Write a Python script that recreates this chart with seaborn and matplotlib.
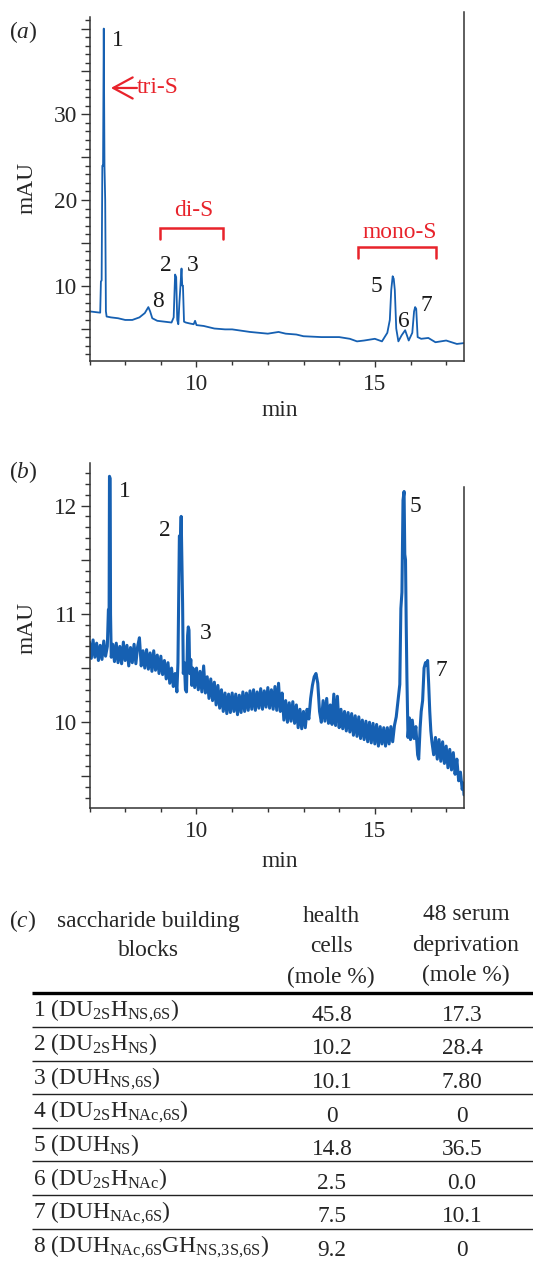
import matplotlib
matplotlib.use('Agg')
import matplotlib.pyplot as plt
import seaborn as sns
from matplotlib.ticker import MultipleLocator, FixedLocator, FixedFormatter

# Panel (a): chromatogram of health cells (min, mAU)
a_time = [7.00, 7.20, 7.30, 7.32, 7.34, 7.36, 7.38, 7.40, 7.42, 7.44, 7.46, 7.48,
          7.60, 7.80, 8.00, 8.20, 8.40, 8.55, 8.65, 8.70, 8.76, 8.90, 9.10, 9.30,
          9.36, 9.40, 9.43, 9.46, 9.49, 9.52, 9.55, 9.58, 9.60, 9.62, 9.65, 9.70,
          9.80, 9.92, 9.96, 10.00, 10.20, 10.50, 10.80, 11.00, 11.50, 12.00, 12.30,
          12.50, 12.80, 13.00, 13.50, 14.00, 14.30, 14.50, 14.70, 15.00, 15.20,
          15.35, 15.42, 15.46, 15.50, 15.53, 15.56, 15.60, 15.66, 15.75, 15.85,
          15.95, 16.05, 16.10, 16.13, 16.16, 16.20, 16.30, 16.50, 16.70, 17.00,
          17.30, 17.50]
a_mau = [7.0, 6.9, 6.85, 10.5, 10.6, 24.0, 24.0, 40.0, 24.0, 20.0, 7.0, 6.4,
         6.3, 6.2, 6.0, 6.0, 6.3, 6.8, 7.5, 7.0, 6.2, 5.9, 5.8, 5.7,
         6.3, 11.3, 11.0, 6.0, 5.5, 8.0, 10.0, 12.0, 10.0, 10.0, 5.8, 5.7,
         5.6, 5.5, 5.9, 5.4, 5.3, 5.0, 4.9, 4.9, 4.6, 4.4, 4.6,
         4.4, 4.3, 4.1, 4.0, 4.0, 3.8, 3.5, 3.6, 3.8, 3.5,
         4.5, 6.0, 9.5, 11.1, 10.8, 9.5, 5.0, 3.5, 4.2, 4.8,
         3.6, 4.5, 7.0, 7.5, 7.3, 4.0, 3.8, 3.9, 3.4, 3.6,
         3.2, 3.3]

# Panel (b): chromatogram after 48 h serum deprivation (min, mAU)
b_time = [7.00, 7.05, 7.10, 7.15, 7.20, 7.25, 7.30, 7.35, 7.40, 7.45, 7.50,
          7.53, 7.55, 7.56, 7.58, 7.59, 7.61, 7.65, 7.70, 7.75, 7.80, 7.85,
          7.90, 7.95, 8.00, 8.05, 8.10, 8.15, 8.20, 8.25, 8.30, 8.35, 8.40,
          8.45, 8.50, 8.55, 8.60, 8.65, 8.70, 8.75, 8.80, 8.85, 8.90, 8.95,
          9.00, 9.05, 9.10, 9.15, 9.20, 9.25, 9.30, 9.35, 9.40, 9.45, 9.48,
          9.52, 9.55, 9.57, 9.59, 9.61, 9.63, 9.66, 9.69, 9.72, 9.75, 9.77,
          9.79, 9.81, 9.84, 9.87, 9.90, 9.95, 10.00, 10.05, 10.10, 10.15,
          10.20, 10.25, 10.30, 10.35, 10.40, 10.45, 10.50, 10.55, 10.60,
          10.65, 10.70, 10.75, 10.80, 10.85, 10.90, 10.95, 11.00, 11.05,
          11.10, 11.15, 11.20, 11.25, 11.30, 11.35, 11.40, 11.45, 11.50,
          11.55, 11.60, 11.65, 11.70, 11.75, 11.80, 11.85, 11.90, 11.95,
          12.00, 12.05, 12.10, 12.15, 12.20, 12.25, 12.30, 12.35, 12.40,
          12.45, 12.50, 12.55, 12.60, 12.65, 12.70, 12.75, 12.80, 12.85,
          12.90, 12.95, 13.00, 13.05, 13.10, 13.15, 13.20, 13.25, 13.30,
          13.35, 13.40, 13.45, 13.50, 13.55, 13.60, 13.65, 13.70, 13.75,
          13.80, 13.85, 13.90, 13.95, 14.00, 14.05, 14.10, 14.15, 14.20,
          14.25, 14.30, 14.35, 14.40, 14.45, 14.50, 14.55, 14.60, 14.65,
          14.70, 14.75, 14.80, 14.85, 14.90, 14.95, 15.00, 15.05, 15.10,
          15.15, 15.20, 15.25, 15.30, 15.35, 15.40, 15.45, 15.50, 15.55,
          15.60, 15.65, 15.70, 15.73, 15.76, 15.79, 15.82, 15.84, 15.86,
          15.88, 15.90, 15.93, 15.97, 16.00, 16.05, 16.10, 16.15, 16.20,
          16.23, 16.27, 16.30, 16.34, 16.38, 16.42, 16.45, 16.48, 16.51,
          16.54, 16.57, 16.60, 16.65, 16.70, 16.75, 16.80, 16.85, 16.90,
          16.95, 17.00, 17.05, 17.10, 17.15, 17.20, 17.25, 17.30, 17.35,
          17.40, 17.45, 17.48, 17.50]
b_mau = [10.74, 10.59, 10.76, 10.60, 10.73, 10.57, 10.71, 10.58, 10.75, 10.61, 10.70,
         11.04, 11.05, 12.27, 12.25, 11.00, 10.60, 10.72, 10.56, 10.73, 10.55, 10.70,
         10.54, 10.74, 10.57, 10.71, 10.52, 10.69, 10.55, 10.72, 10.54, 10.70, 10.78,
         10.52, 10.66, 10.50, 10.67, 10.49, 10.64, 10.47, 10.66, 10.48, 10.62, 10.45,
         10.61, 10.44, 10.57, 10.40, 10.55, 10.36, 10.50, 10.33, 10.45, 10.28, 10.55,
         11.72, 11.70, 11.90, 11.50, 11.10, 10.45, 10.55, 10.30, 10.28, 10.80, 10.88,
         10.85, 10.45, 10.58, 10.34, 10.50, 10.32, 10.50, 10.30, 10.47, 10.28,
         10.52, 10.27, 10.42, 10.22, 10.40, 10.20, 10.37, 10.16, 10.34,
         10.13, 10.30, 10.10, 10.27, 10.08, 10.26, 10.09, 10.27, 10.10,
         10.26, 10.07, 10.25, 10.09, 10.28, 10.10, 10.27, 10.11, 10.29,
         10.12, 10.30, 10.11, 10.28, 10.13, 10.31, 10.12, 10.29, 10.14,
         10.32, 10.13, 10.30, 10.12, 10.33, 10.11, 10.36, 10.10, 10.27,
         10.02, 10.20, 10.00, 10.18, 10.01, 10.19, 9.99, 10.16, 9.95,
         10.12, 9.94, 10.10, 9.95, 10.12, 10.03, 10.22, 10.34, 10.42,
         10.45, 10.36, 10.10, 10.00, 10.20, 10.01, 10.22, 9.99, 10.16,
         9.98, 10.26, 9.97, 10.24, 9.95, 10.12, 9.94, 10.10, 9.92,
         10.09, 9.91, 10.08, 9.88, 10.06, 9.87, 10.05, 9.85, 10.02,
         9.84, 10.01, 9.82, 10.00, 9.81, 9.99, 9.80, 9.98, 9.78,
         9.96, 9.80, 9.95, 9.78, 9.95, 9.80, 9.96, 9.82, 9.97,
         10.05, 10.20, 10.35, 11.05, 11.20, 12.05, 12.13, 11.55, 11.50,
         10.90, 10.40, 9.86, 10.04, 9.84, 10.02, 9.85, 9.96, 9.70,
         9.66, 9.95, 10.10, 10.20, 10.50, 10.55, 10.53, 10.57, 10.35,
         10.10, 9.92, 9.82, 9.70, 9.86, 9.66, 9.84, 9.64, 9.82,
         9.62, 9.78, 9.58, 9.75, 9.56, 9.72, 9.52, 9.66, 9.46,
         9.54, 9.38, 9.44, 9.33]

# peak labels
a_peak_ids = ['1', '2', '3', '8', '5', '6', '7']
a_peak_x = [7.80, 9.145, 9.88, 8.93, 15.05, 15.82, 16.43]
a_peak_y = [38.6, 12.33, 12.33, 8.13, 9.88, 5.80, 7.63]
b_peak_ids = ['1', '2', '3', '5', '7']
b_peak_x = [7.995, 9.12, 10.26, 16.13, 16.87]
b_peak_y = [12.13, 11.77, 10.82, 11.99, 10.48]

# sulfation groups in panel (a)
group_names = ['di-S', 'mono-S']
group_x = [9.91, 15.70]
group_y = [18.83, 16.23]
group_start = [8.98, 14.52]
group_end = [10.75, 16.71]
group_top = [16.7, 14.52]
group_leg = [15.4, 13.27]

# table (c)
block_names = [
    r'1 (DU$_{\mathrm{2S}}$H$_{\mathrm{NS{,}6S}}$)',
    r'2 (DU$_{\mathrm{2S}}$H$_{\mathrm{NS}}$)',
    r'3 (DUH$_{\mathrm{NS{,}6S}}$)',
    r'4 (DU$_{\mathrm{2S}}$H$_{\mathrm{NAc{,}6S}}$)',
    r'5 (DUH$_{\mathrm{NS}}$)',
    r'6 (DU$_{\mathrm{2S}}$H$_{\mathrm{NAc}}$)',
    r'7 (DUH$_{\mathrm{NAc{,}6S}}$)',
    r'8 (DUH$_{\mathrm{NAc{,}6S}}$GH$_{\mathrm{NS{,}3S{,}6S}}$)',
]
health_cells = ['45.8', '10.2', '10.1', '0', '14.8', '2.5', '7.5', '9.2']
serum_deprived = ['17.3', '28.4', '7.80', '0', '36.5', '0.0', '10.1', '0']

assert len(b_time) == len(b_mau) and len(a_time) == len(a_mau)

BLUE = '#1660b2'
RED = '#e8232b'
INK = '#1a1a1a'
FS = 16.8

sns.set_style('ticks')
plt.rcParams['font.family'] = ['Liberation Serif', 'DejaVu Serif']
plt.rcParams['mathtext.fontset'] = 'custom'
plt.rcParams['mathtext.rm'] = 'Liberation Serif'
plt.rcParams['mathtext.it'] = 'Liberation Serif:italic'
plt.rcParams['mathtext.bf'] = 'Liberation Serif:bold'

fig = plt.figure(figsize=(5.33, 12.61), dpi=100)
W, H = 533.0, 1261.0


def style_axis(ax, ylim, left_top, right_top, major, minor, labels, ylab_y, xlab_y):
    ax.set_xlim(7, 17.5)
    ax.set_ylim(*ylim)
    ax.spines['top'].set_visible(False)
    for s in ['left', 'bottom', 'right']:
        ax.spines[s].set_color('#333333')
        ax.spines[s].set_linewidth(1.1)
    ax.spines['left'].set_bounds(ylim[0], left_top)
    ax.spines['right'].set_bounds(ylim[0], right_top)
    ax.xaxis.set_major_locator(FixedLocator([10, 15]))
    ax.xaxis.set_minor_locator(MultipleLocator(1))
    ax.yaxis.set_major_locator(MultipleLocator(major))
    ax.yaxis.set_minor_locator(MultipleLocator(minor))
    ticks = [t for t in ax.get_yticks() if ylim[0] <= t <= left_top]
    ax.yaxis.set_major_locator(FixedLocator(ticks))
    ax.yaxis.set_major_formatter(FixedFormatter(
        [('%g' % t) if any(abs(t - l) < 1e-6 for l in labels) else '' for t in ticks]))
    ax.tick_params(axis='y', which='major', length=6.5, width=1.0, color='#333333',
                   labelsize=FS, pad=2.5, direction='out')
    ax.tick_params(axis='y', which='minor', length=3.5, width=1.0, color='#333333',
                   direction='out')
    ax.tick_params(axis='x', which='major', length=4, width=1.0, color='#333333',
                   labelsize=FS, pad=5, direction='out')
    ax.tick_params(axis='x', which='minor', length=3, width=1.0, color='#333333',
                   direction='out')
    ax.set_xlabel('min', fontsize=FS)
    ax.set_ylabel('mAU', fontsize=FS)
    ax.xaxis.label.set_va('center')
    ax.yaxis.label.set_va('center')
    ax.xaxis.set_label_coords(0.509, xlab_y)
    ax.yaxis.set_label_coords(-0.168, ylab_y)


# ---------- panel (a)
ax_a = fig.add_axes([89.5 / W, (H - 361) / H, 374.5 / W, 349.3 / H])
sns.lineplot(x=a_time, y=a_mau, ax=ax_a, color=BLUE, linewidth=1.3,
             sort=False, estimator=None)
style_axis(ax_a, (1.21, 41.97), 41.35, 41.97, 5, 1, [10, 20, 30], 0.495, -0.143)

for pid, px, py in zip(a_peak_ids, a_peak_x, a_peak_y):
    ax_a.text(px, py, pid, fontsize=FS, ha='center', va='center', color=INK)

ax_a.annotate('', xy=(7.60, 33.07), xytext=(8.33, 33.07),
              arrowprops=dict(arrowstyle='->,head_length=0.7,head_width=0.38',
                              color=RED, lw=1.6, mutation_scale=20,
                              shrinkA=0, shrinkB=0))
ax_a.text(8.33, 33.07, 'tri-S', fontsize=FS, color=RED, ha='left', va='center')

for name, gx, gy, x0, x1, top, leg in zip(group_names, group_x, group_y,
                                         group_start, group_end, group_top, group_leg):
    ax_a.text(gx, gy, name, fontsize=FS, color=RED, ha='center', va='center')
    ax_a.plot([x0, x0, x1, x1], [leg, top, top, leg], color=RED, lw=1.8,
              solid_joinstyle='miter')

fig.text(23 / W, 1 - 32 / H, r'($\mathit{a}$)', fontsize=FS, ha='center', va='center')

# ---------- panel (b)
ax_b = fig.add_axes([89.5 / W, (H - 808.3) / H, 374.5 / W, 345.0 / H])
sns.lineplot(x=b_time, y=b_mau, ax=ax_b, color=BLUE, linewidth=2.2,
             sort=False, estimator=None)
style_axis(ax_b, (9.206, 12.39), 12.39, 12.175, 0.5, 0.1, [10, 11, 12], 0.523, -0.155)

for pid, px, py in zip(b_peak_ids, b_peak_x, b_peak_y):
    ax_b.text(px, py, pid, fontsize=FS, ha='center', va='center', color=INK)

fig.text(23 / W, 1 - 472 / H, r'($\mathit{b}$)', fontsize=FS, ha='center', va='center')

# ---------- table (c)
ax_c = fig.add_axes([0, 0, 1, (H - 880) / H])
ax_c.set_xlim(0, W)
ax_c.set_ylim(H, 880)
ax_c.axis('off')

ax_c.text(23, 921, r'($\mathit{c}$)', fontsize=FS, ha='center', va='center')
ax_c.text(148, 921, 'saccharide building', fontsize=FS, ha='center', va='center')
ax_c.text(148, 950, 'blocks', fontsize=FS, ha='center', va='center')
for txt, yy in zip(['health', 'cells', '(mole %)'], [917, 947, 977]):
    ax_c.text(331, yy, txt, fontsize=FS, ha='center', va='center')
for txt, yy in zip(['48 serum', 'deprivation', '(mole %)'], [915, 945, 975]):
    ax_c.text(466, yy, txt, fontsize=FS, ha='center', va='center')

rule_top = 993.3
row_h = 33.6
ax_c.plot([31.7, W], [rule_top, rule_top], color='black', lw=2.4, solid_capstyle='butt')
for i, (name, h, s) in enumerate(zip(block_names, health_cells, serum_deprived)):
    top = rule_top + i * row_h
    if i > 0:
        ax_c.plot([31.7, W], [top, top], color='#222222', lw=1.0, solid_capstyle='butt')
    ax_c.text(33, top + 23.5, name, fontsize=FS, ha='left', va='baseline')
    ax_c.text(332, top + 27.5, h, fontsize=FS, ha='center', va='baseline')
    ax_c.text(462, top + 27.5, s, fontsize=FS, ha='center', va='baseline')

fig.savefig('out.png', dpi=100)
